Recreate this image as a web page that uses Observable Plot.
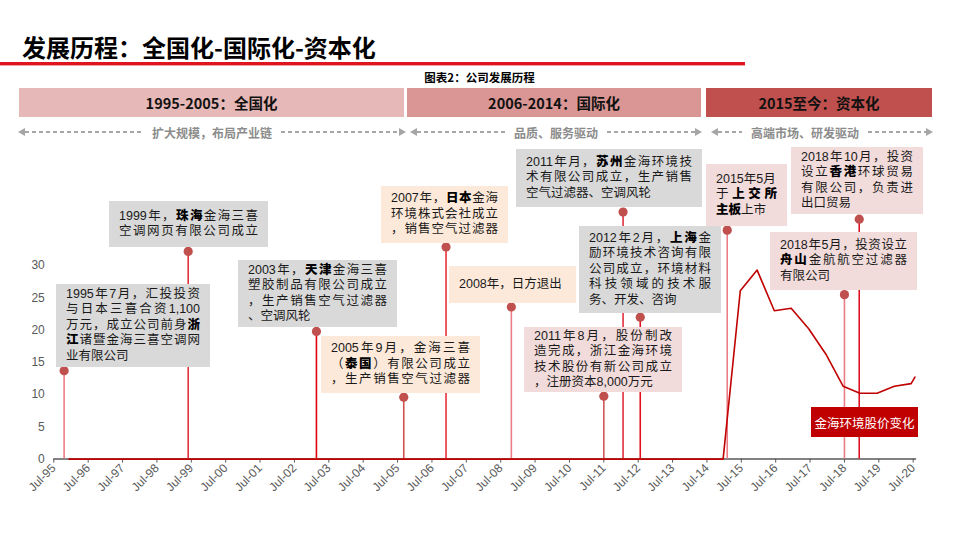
<!DOCTYPE html>
<html><head><meta charset="utf-8">
<script src="https://cdn.jsdelivr.net/npm/d3@7"></script>
<script src="https://cdn.jsdelivr.net/npm/@observablehq/plot@0.6"></script>
<style>
html,body{margin:0;padding:0;background:#fff;}
#wrap{position:relative;width:959px;height:539px;overflow:hidden;font-family:"Noto Sans CJK SC","Noto Sans",sans-serif;}
.abs{position:absolute;}
#title{left:22px;top:33px;font-size:24px;font-weight:bold;line-height:28px;color:#000;white-space:nowrap;}
#redline{left:0;top:62px;width:745px;height:3px;background:#e0141e;border-bottom:1px solid #f3a0a0;}
#cap{left:0;width:959px;top:69px;text-align:center;font-size:11.5px;font-weight:bold;line-height:16px;color:#000;}
.band{top:88px;height:29px;display:flex;align-items:center;justify-content:center;font-size:14.5px;font-weight:bold;color:#111;}
.arow{top:124px;height:16px;display:flex;align-items:center;}
.dash{flex:1;height:2px;background:repeating-linear-gradient(to right,#a6a6a6 0 4px,transparent 4px 7px);}
.al{width:0;height:0;border-top:4px solid transparent;border-bottom:4px solid transparent;border-right:7px solid #a6a6a6;}
.ar{width:0;height:0;border-top:4px solid transparent;border-bottom:4px solid transparent;border-left:7px solid #a6a6a6;}
.atxt{font-size:12px;font-weight:bold;color:#8c8c8c;padding:0 9px;white-space:nowrap;}
.box{display:flex;flex-direction:column;justify-content:center;padding:0 10px;box-sizing:border-box;font-family:"Liberation Sans","Noto Sans CJK SC",sans-serif;font-size:12.5px;line-height:15.5px;color:#1a1a1a;}
.box .j{text-align:justify;text-align-last:justify;white-space:nowrap;}
.box .n{white-space:nowrap;}
.box b{color:#000;font-weight:900;}
#legend{left:811px;top:407px;width:107px;height:30px;background:#c00000;color:#fff;font-size:12.5px;display:flex;align-items:center;justify-content:center;}
</style></head>
<body><div id="wrap"></div>
<script>
// ---- data ----
const tickYears = [1995.5,1996.5,1997.5,1998.5,1999.5,2000.5,2001.5,2002.5,2003.5,2004.5,2005.5,2006.5,2007.5,2008.5,2009.5,2010.5,2011.5,2012.5,2013.5,2014.5,2015.5,2016.5,2017.5,2018.5,2019.5,2020.5];
const tickLabels = ["Jul-95","Jul-96","Jul-97","Jul-98","Jul-99","Jul-00","Jul-01","Jul-02","Jul-03","Jul-04","Jul-05","Jul-06","Jul-07","Jul-08","Jul-09","Jul-10","Jul-11","Jul-12","Jul-13","Jul-14","Jul-15","Jul-16","Jul-17","Jul-18","Jul-19","Jul-20"];
const yTicks = [0,5,10,15,20,25,30];
const priceT = [1995.94,2014.97,2015.47,2015.96,2016.46,2016.95,2017.46,2017.98,2018.46,2018.95,2019.45,2019.95,2020.44,2020.55];
const priceV = [0,0,26.1,29.3,23.0,23.4,20.2,16.1,11.3,10.2,10.2,11.3,11.7,12.7];
const eventNames = ["1995","1999","2003","2005-09","2007","2008","2011-08","2011","2012-02","2015-05","2018-05","2018-10"];
const eventT = [1995.8,1999.41,2003.14,2005.68,2006.91,2008.81,2011.5,2012.06,2012.56,2015.09,2018.5,2018.93];
const eventV = [13.7,32.2,19.8,9.6,32.9,23.6,9.75,38.3,22.0,35.5,25.5,37.2];
const stemColors = ["#ec7c86","#e0303e","#e00010","#d05050","#e8303a","#ec7c86","#d05858","#e0303e","#e01020","#ec7c86","#ec7c86","#e01020"];

const price = priceT.map((t,i)=>({t, v: priceV[i]}));
const events = eventT.map((t,i)=>({name: eventNames[i], t, v: eventV[i], c: stemColors[i]}));

const wrap = document.getElementById("wrap");

// ---- header ----
wrap.insertAdjacentHTML("beforeend", `
<div id="title" class="abs">发展历程：全国化-国际化-资本化</div>
<div id="redline" class="abs"></div>
<div id="cap" class="abs">图表2：公司发展历程</div>
<div class="abs band" style="left:19px;width:385px;background:#e6b8b7;">1995-2005：全国化</div>
<div class="abs band" style="left:407px;width:294px;background:#da9694;">2006-2014：国际化</div>
<div class="abs band" style="left:706px;width:226px;background:#c0504d;">2015至今：资本化</div>
<div class="abs arow" style="left:18px;width:388px;"><div class="al"></div><div class="dash"></div><div class="atxt">扩大规模，布局产业链</div><div class="dash"></div><div class="ar"></div></div>
<div class="abs arow" style="left:410px;width:292px;"><div class="al"></div><div class="dash"></div><div class="atxt">品质、服务驱动</div><div class="dash"></div><div class="ar"></div></div>
<div class="abs arow" style="left:711px;width:222px;"><div class="al"></div><div class="dash" style="flex:0 0 24px"></div><div class="atxt">高端市场、研发驱动</div><div class="dash"></div><div class="ar"></div></div>
`);

// ---- chart ----
const svgTop = 145;
const plot = Plot.plot({
  width: 959,
  height: 394,
  marginLeft: 53.3,
  marginRight: 46.3,
  marginTop: 55.6,
  marginBottom: 80.4,
  style: {fontFamily: "'Liberation Sans', Arial, sans-serif", fontSize: "12px", color: "#595959", background: "transparent", overflow: "visible"},
  x: {domain: [1995.5, 2020.5], label: null},
  y: {domain: [0, 40], label: null},
  color: {type: "identity"},
  marks: [
    Plot.ruleY([0], {x1: 1995.5, x2: 2020.6, stroke: "#595959", strokeWidth: 1.5}),
    Plot.axisX(tickYears, {tickFormat: d => tickLabels[tickYears.indexOf(d)], tickRotate: -45, tickSize: 4, tickPadding: 3, stroke: "#595959", fill: "#595959", fontSize: 12}),
    Plot.axisY(yTicks, {tickSize: 0, tickPadding: 9, fill: "#595959", fontSize: 12}),
    Plot.ruleX(events, {x: "t", y1: 0, y2: "v", stroke: "c", strokeWidth: 1.6}),
    Plot.line(price, {x: "t", y: "v", stroke: "#c00000", strokeWidth: 1.6}),
    Plot.dot(events, {x: "t", y: "v", r: 4.6, fill: "#c0504d", stroke: "none"})
  ]
});
plot.style.position = "absolute";
plot.style.left = "0px";
plot.style.top = svgTop + "px";
wrap.appendChild(plot);

// ---- annotation boxes ----
const G = "#d9d9d9", P = "#fde9d9", K = "#f2dcdb";
const boxes = [
  {l:56,t:284,w:154,h:83,bg:G,lines:[["j","1995年7月，汇投投资"],["j","与日本三喜合资1,100"],["j","万元，成立公司前身<b>浙</b>"],["j","<b>江</b>诸暨金海三喜空调网"],["n","业有限公司"]]},
  {l:109,t:201,w:159,h:46,bg:G,lines:[["j","1999年，<b>珠海</b>金海三喜"],["j","空调网页有限公司成立"]]},
  {l:238,t:260,w:159,h:67,bg:G,lines:[["j","2003年，<b>天津</b>金海三喜"],["j","塑胶制品有限公司成立"],["j","，生产销售空气过滤器"],["n","、空调风轮"]]},
  {l:321,t:336,w:159,h:57,bg:P,lines:[["j","2005年9月，金海三喜"],["j","（<b>泰国</b>）有限公司成立"],["j","，生产销售空气过滤器"]]},
  {l:381,t:186,w:127,h:57,bg:P,lines:[["j","2007年，<b>日本</b>金海"],["j","环境株式会社成立"],["j","，销售空气过滤器"]]},
  {l:449,t:266,w:127,h:37,bg:P,lines:[["n","2008年，日方退出"]]},
  {l:516,t:149,w:186,h:58,bg:G,lines:[["j","2011年月，<b>苏州</b>金海环境技"],["j","术有限公司成立，生产销售"],["n","空气过滤器、空调风轮"]]},
  {l:579,t:226,w:142,h:87,bg:G,lines:[["j","2012年2月，<b>上海</b>金"],["j","励环境技术咨询有限"],["j","公司成立，环境材料"],["j","科技领域的技术服"],["n","务、开发、咨询"]]},
  {l:524,t:327,w:158,h:65,bg:K,lines:[["j","2011年8月，股份制改"],["j","造完成，浙江金海环境"],["j","技术股份有新公司成立"],["n","，注册资本8,000万元"]]},
  {l:706,t:164,w:81,h:62,bg:K,lines:[["n","2015年5月"],["j","于<b>上交所</b>"],["n","<b>主板</b>上市"]]},
  {l:791,t:147,w:132,h:67,bg:K,lines:[["j","2018年10月，投资"],["j","设立<b>香港</b>环球贸易"],["j","有限公司，负责进"],["n","出口贸易"]]},
  {l:770,t:232,w:147,h:58,bg:K,lines:[["j","2018年5月，投资设立"],["j","<b>舟山</b>金航航空过滤器"],["n","有限公司"]]}
];
for (const b of boxes) {
  const d = document.createElement("div");
  d.className = "abs box";
  d.style.cssText = `left:${b.l}px;top:${b.t}px;width:${b.w}px;height:${b.h}px;background:${b.bg};`;
  d.innerHTML = b.lines.map(([c, s]) => `<div class="${c}">${s}</div>`).join("");
  wrap.appendChild(d);
}
wrap.insertAdjacentHTML("beforeend", `<div id="legend" class="abs">金海环境股价变化</div>`);
</script>
</body></html>
